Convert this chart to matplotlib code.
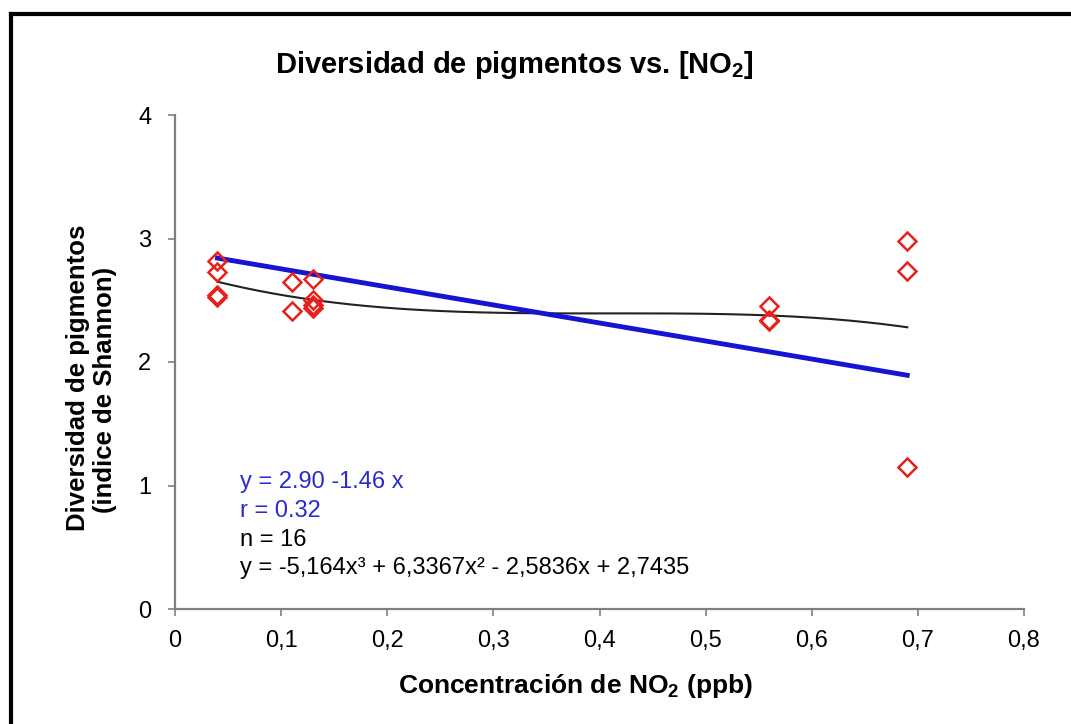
import numpy as np
import matplotlib
matplotlib.use('Agg')
import matplotlib.pyplot as plt
from matplotlib.lines import Line2D

# datos
no2 = [0.04, 0.04, 0.04, 0.04, 0.11, 0.11, 0.13, 0.13, 0.13, 0.13,
       0.56, 0.56, 0.56, 0.69, 0.69, 0.69]
shannon = [2.82, 2.73, 2.545, 2.53, 2.65, 2.41, 2.67, 2.50, 2.46, 2.44,
           2.455, 2.34, 2.33, 2.98, 2.74, 1.15]

# coeficientes de los ajustes (tal como aparecen en el grafico)
lin_coef = [-1.46, 2.90]
poly_coef = [-5.164, 6.3367, -2.5836, 2.7435]

xticks = [0, 0.1, 0.2, 0.3, 0.4, 0.5, 0.6, 0.7, 0.8]
xticklabels = ['0', '0,1', '0,2', '0,3', '0,4', '0,5', '0,6', '0,7', '0,8']
yticks = [0, 1, 2, 3, 4]

plt.rcParams['font.family'] = ['Liberation Sans', 'DejaVu Sans']
plt.rcParams['mathtext.fontset'] = 'custom'
plt.rcParams['mathtext.rm'] = 'Liberation Sans'
plt.rcParams['mathtext.bf'] = 'Liberation Sans:bold'

W, H = 1071, 724
fig = plt.figure(figsize=(W / 100, H / 100), dpi=100)
ax = fig.add_axes([175 / W, 1 - 609 / H, (1024 - 175) / W, (609 - 115) / H])

xs = np.linspace(min(no2), max(no2), 200)
ax.plot(xs, np.polyval(poly_coef, xs), c='#222222', lw=1.5, zorder=2)
ax.plot(xs, np.polyval(lin_coef, xs), c='#1414d2', lw=3.5, zorder=3)
ax.plot(no2, shannon, ls='none', marker='D', ms=9.5, mfc='none', mec='#e8201c',
        mew=1.8, zorder=4)

ax.set_xlim(0, 0.8)
ax.set_ylim(0, 4)
ax.set_xticks(xticks)
ax.set_xticklabels(xticklabels)
ax.set_yticks(yticks)
ax.tick_params(direction='out', length=5, width=1.2, color='#808080',
               labelsize=17)
ax.tick_params(axis='x', pad=10)
ax.tick_params(axis='y', pad=12)
for s in ['top', 'right']:
    ax.spines[s].set_visible(False)
for s in ['left', 'bottom']:
    ax.spines[s].set_color('#808080')
    ax.spines[s].set_linewidth(1.6)

fig.text(514 / W, 1 - 73 / H, r'Diversidad de pigmentos vs. [NO$_{\mathbf{2}}$]',
         ha='center', va='baseline', fontsize=21, fontweight='bold')
fig.text(575 / W, 1 - 693 / H, r'Concentración de NO$_{\mathbf{2}}$ (ppb)',
         ha='center', va='baseline', fontsize=19, fontweight='bold')
fig.text(78 / W, 1 - 378 / H, 'Diversidad de pigmentos',
         ha='center', va='center', rotation=90, fontsize=18.5, fontweight='bold')
fig.text(105 / W, 1 - 390 / H, '(indice de Shannon)',
         ha='center', va='center', rotation=90, fontsize=18.5, fontweight='bold')

tx = 240 / W
fig.text(tx, 1 - 482 / H, 'y = 2.90 -1.46 x', color='#2a2ad0', fontsize=17, va='center')
fig.text(tx, 1 - 511 / H, 'r = 0.32', color='#2a2ad0', fontsize=17, va='center')
fig.text(tx, 1 - 540 / H, 'n = 16', color='black', fontsize=17, va='center')
fig.text(tx, 1 - 568 / H, 'y = -5,164x³ + 6,3367x² - 2,5836x + 2,7435',
         color='black', fontsize=17, va='center')

# marco negro de la imagen original (solo arriba e izquierda)
fig.add_artist(Line2D([11 / W, 1], [1 - 14 / H, 1 - 14 / H], color='black', lw=3,
                      transform=fig.transFigure))
fig.add_artist(Line2D([11 / W, 11 / W], [0, 1 - 14 / H], color='black', lw=3,
                      transform=fig.transFigure))

fig.savefig('out.png', dpi=100)
